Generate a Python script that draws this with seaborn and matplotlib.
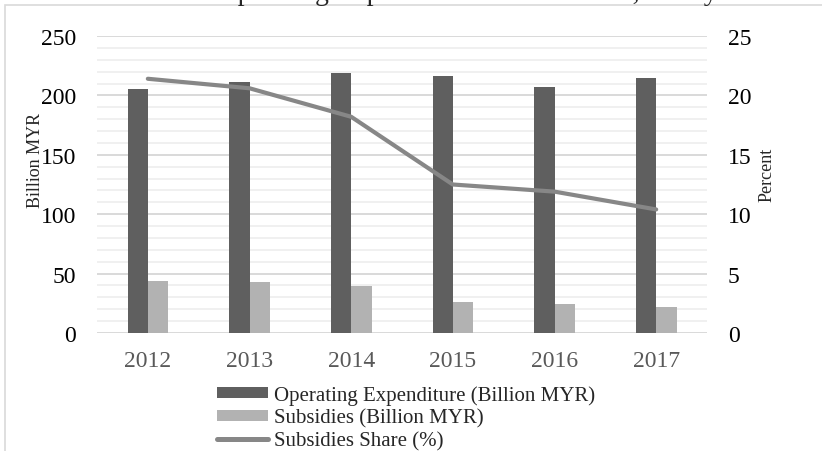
import numpy as np
import pandas as pd
import matplotlib
matplotlib.use("Agg")
import matplotlib.pyplot as plt
from matplotlib.patches import Rectangle, Patch
from matplotlib.lines import Line2D
import seaborn as sns

# ---- data ----
years = ["2012", "2013", "2014", "2015", "2016", "2017"]
opex = [205, 211, 219, 216.5, 207, 214.5]          # Billion MYR
subsidies = [43.5, 42.7, 39.3, 26.5, 24.3, 22]     # Billion MYR
share = [21.4, 20.6, 18.2, 12.5, 11.9, 10.4]       # percent
series_names = ["Operating Expenditure (Billion MYR)", "Subsidies (Billion MYR)"]
line_name = "Subsidies Share (%)"
title = "Government Operating Expenditure and Subsidies, Malaysia"

sns.set_theme(style="white")
plt.rcParams["font.family"] = ["Liberation Serif", "DejaVu Serif"]

dark = "#5f5f5f"
light = "#b2b2b2"
line_c = "#878787"

df = pd.DataFrame({
    "Year": years * 2,
    "Value": opex + subsidies,
    "Series": [series_names[0]] * len(years) + [series_names[1]] * len(years),
})

W, H = 822, 452
fig = plt.figure(figsize=(W / 100, H / 100), dpi=100)
ax = fig.add_axes([97 / W, 1 - 334 / H, (707 - 97) / W, (334 - 37) / H])

sns.barplot(data=df, x="Year", y="Value", hue="Series", order=years,
            hue_order=series_names, palette=[dark, light], width=0.4,
            gap=0, linewidth=0, saturation=1, legend=False, ax=ax)

ax.set_xlim(-0.5, len(years) - 0.5)
ax.set_ylim(0, 250)
ax.set_yticks(np.arange(0, 251, 50))
ax.set_yticks(np.arange(0, 251, 10), minor=True)
ax.set_axisbelow(True)
ax.grid(False)
ax.grid(which="minor", axis="y", color="#f0f0f0", lw=1.4)
ax.grid(which="major", axis="y", color="#d9d9d9", lw=1.4)
for s in ax.spines.values():
    s.set_visible(False)
ax.set_xlabel("")
ax.set_ylabel("")
ax.tick_params(axis="y", which="both", length=0, labelsize=17, pad=15, labelcolor="black")
ax.tick_params(axis="x", length=0, labelsize=17, pad=12, labelcolor="#595959")

ax2 = ax.twinx()
sns.lineplot(x=np.arange(len(years)), y=share, color=line_c, lw=3.0,
             solid_capstyle="round", ax=ax2)
ax2.set_ylim(0, 25)
ax2.set_yticks(np.arange(0, 26, 5))
ax2.grid(False)
for s in ax2.spines.values():
    s.set_visible(False)
ax2.tick_params(axis="y", length=0, labelsize=17, pad=15, labelcolor="black")
ax2.set_ylabel("")

# axis titles
fig.text(35 / W, 1 - 160 / H, "Billion MYR", rotation=90, ha="center", va="center", fontsize=13)
fig.text(767 / W, 1 - 175 / H, "Percent", rotation=90, ha="center", va="center", fontsize=13)

# title (partly clipped at top as in the reference)
fig.text(410 / W, 1.0, title, ha="center", va="baseline", fontsize=20)

# chart-area border
fig.patches.append(Rectangle((5 / W, -0.1), 2, 1.1 - 6 / H, transform=fig.transFigure,
                             fill=False, edgecolor="#d9d9d9", lw=1.2))

handles = [Patch(facecolor=dark, edgecolor="none"),
           Patch(facecolor=light, edgecolor="none"),
           Line2D([0], [0], color=line_c, lw=3.6, solid_capstyle="round")]
fig.legend(handles, series_names + [line_name], loc="upper left",
           bbox_to_anchor=(217 / W, 1 - 386 / H), frameon=False, fontsize=15,
           borderpad=0, borderaxespad=0, handlelength=2.45, handleheight=0.45,
           handletextpad=0.3, labelspacing=0.17)

fig.savefig("out.png", dpi=100)
